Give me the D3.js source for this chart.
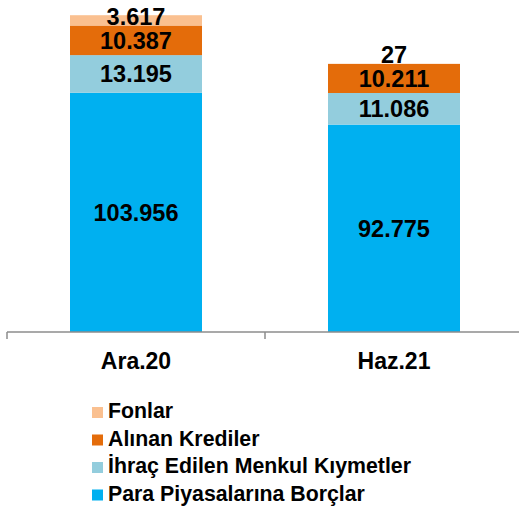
<!DOCTYPE html>
<html>
<head>
<meta charset="utf-8">
<script src="https://cdn.jsdelivr.net/npm/d3@7"></script>
<style>
  body { margin: 0; background: #fff; }
  text { font-family: Arial, "Liberation Sans", sans-serif; font-weight: bold; fill: #000; }
</style>
</head>
<body>
<div class="chart"></div>
<script>
// data
const categories = ["Ara.20", "Haz.21"];
const seriesNames = ["Para Piyasalarına Borçlar", "İhraç Edilen Menkul Kıymetler", "Alınan Krediler", "Fonlar"];
const seriesColors = ["#00B0F0", "#93CDDD", "#E46C0A", "#FAC090"];
const paraPiyasa = [103956, 92775];
const ihrac = [13195, 11086];
const alinan = [10387, 10211];
const fonlar = [3617, 27];

const width = 519, height = 512;

const svg = d3.select(".chart").append("svg")
    .attr("width", width)
    .attr("height", height);

const x = d3.scaleBand()
    .domain(categories)
    .range([7, 523]);

// value axis does not start at zero in the original
const y = d3.scaleLinear()
    .domain([20000, 140000])
    .range([332, -10]);

const rows = categories.map(function (c, i) {
    return { cat: c, s0: paraPiyasa[i], s1: ihrac[i], s2: alinan[i], s3: fonlar[i] };
});
const layers = d3.stack().keys(["s0", "s1", "s2", "s3"])(rows);

const barW = 132;
const fmt = d3.formatLocale({ decimal: ",", thousands: ".", grouping: [3], currency: ["", ""] }).format(",d");

layers.forEach(function (layer, li) {
    const g = svg.append("g");
    g.selectAll("rect")
        .data(layer)
        .enter()
        .append("rect")
        .attr("x", d => x(d.data.cat) + x.bandwidth() / 2 - barW / 2)
        .attr("width", barW)
        .attr("y", d => y(d[1]))
        .attr("height", d => y(Math.max(d[0], 20000)) - y(d[1]))
        .style("fill", seriesColors[li]);

    g.selectAll("text")
        .data(layer)
        .enter()
        .append("text")
        .attr("x", d => x(d.data.cat) + x.bandwidth() / 2)
        .attr("y", function (d) {
            const top = y(d[1]), bot = y(Math.max(d[0], 20000));
            if (bot - top < 8) return top - 1;     // tiny segment: label above bar
            if (bot - top < 15) return top + 10;   // thin segment: label pushed up
            return (top + bot) / 2 + 8.5;
        })
        .attr("text-anchor", "middle")
        .style("font-size", "23.5px")
        .text(d => fmt(d[1] - d[0]));
});

// category axis
const axisG = svg.append("g").attr("transform", "translate(0,332)");
axisG.append("line")
    .attr("x1", 7).attr("x2", 519)
    .attr("y1", 0).attr("y2", 0)
    .style("stroke", "#8c8c8c").style("stroke-width", 1.5);
axisG.selectAll(".tick")
    .data([7, x(categories[1])])
    .enter()
    .append("line")
    .attr("x1", d => d).attr("x2", d => d)
    .attr("y1", 0).attr("y2", 7)
    .style("stroke", "#8c8c8c").style("stroke-width", 1.5);
axisG.selectAll(".lbl")
    .data(categories)
    .enter()
    .append("text")
    .attr("x", d => x(d) + x.bandwidth() / 2)
    .attr("y", 37)
    .attr("text-anchor", "middle")
    .style("font-size", "23px")
    .text(d => d);

// legend
const legendOrder = [3, 2, 1, 0];
const legend = svg.append("g")
    .selectAll("g")
    .data(legendOrder)
    .enter()
    .append("g")
    .attr("transform", function (d, i) { return "translate(92," + (418 + i * 27.5) + ")"; });

legend.append("rect")
    .attr("y", -11)
    .attr("width", 11)
    .attr("height", 11)
    .style("fill", d => seriesColors[d]);

legend.append("text")
    .attr("x", 16)
    .attr("y", 0)
    .style("font-size", "21.3px")
    .text(d => seriesNames[d]);
</script>
</body>
</html>
